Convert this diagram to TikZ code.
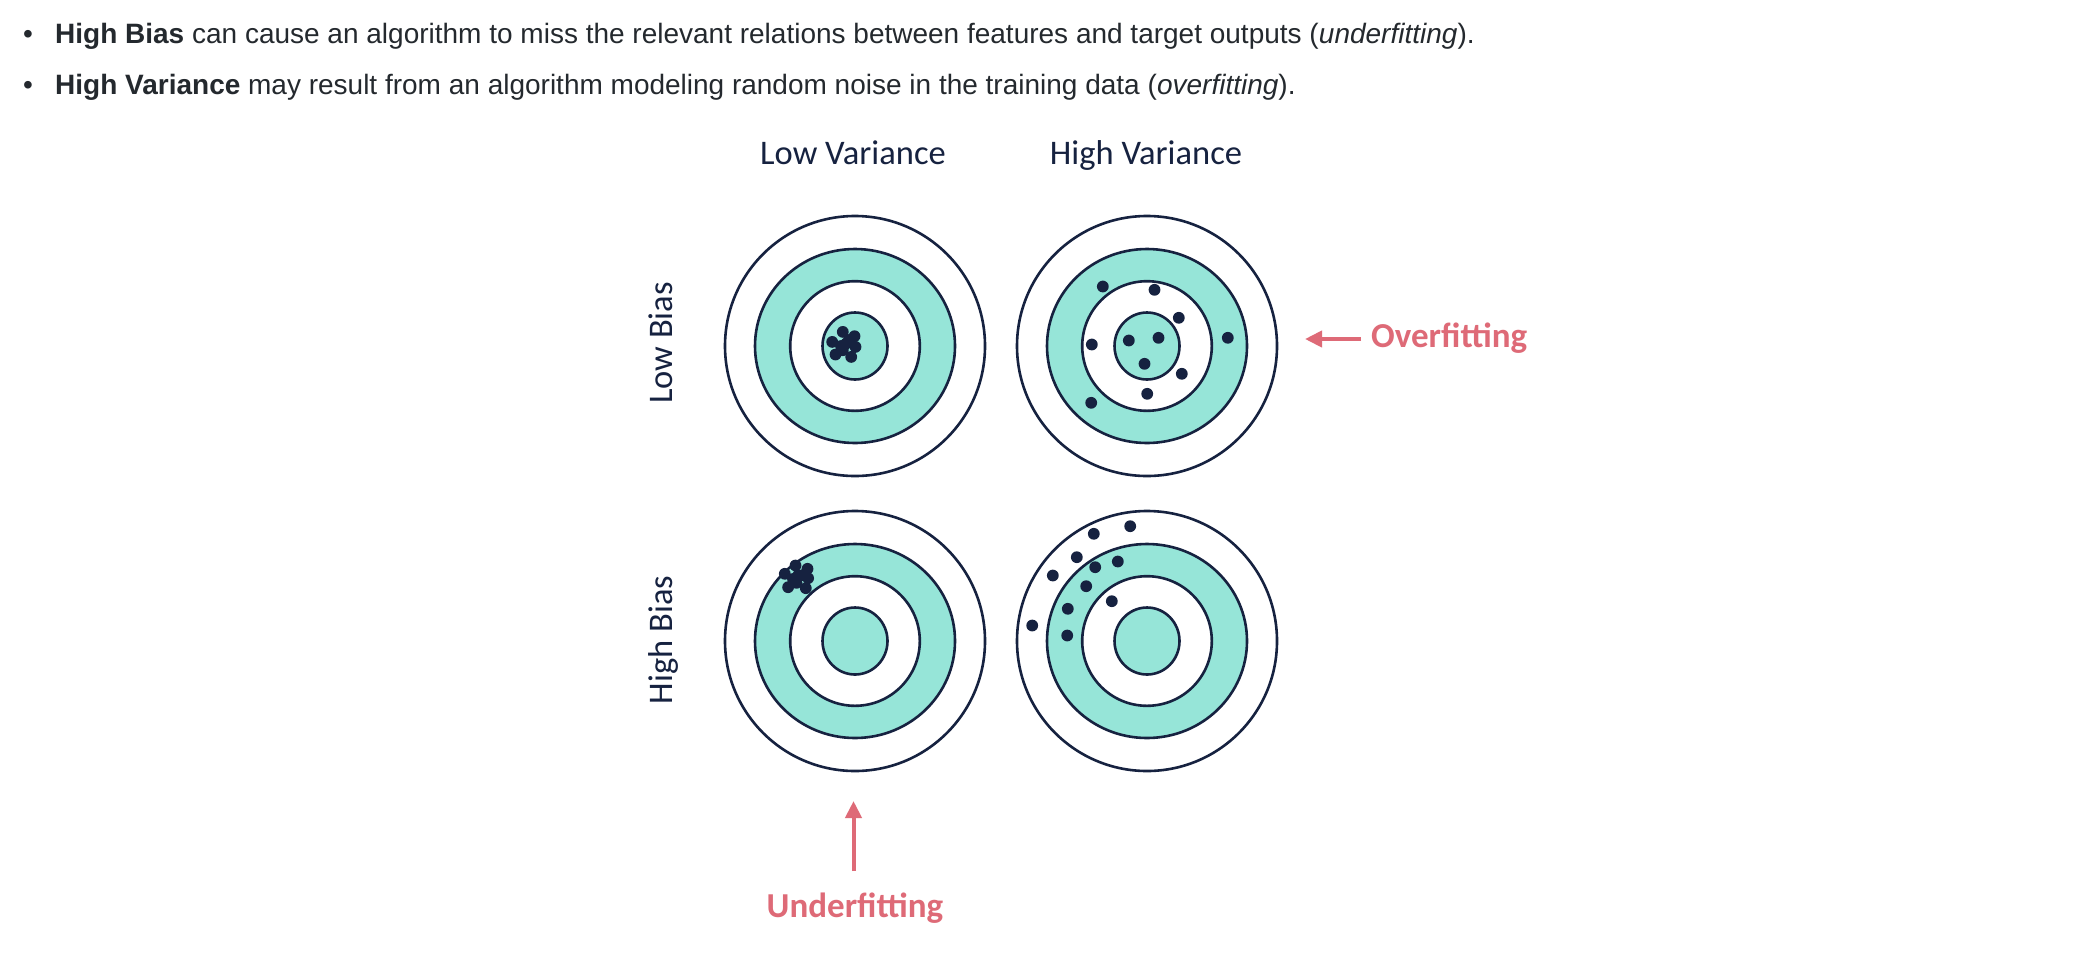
\documentclass[tikz,border=0pt]{standalone}
\usepackage{fontspec}
\setmainfont{Liberation Sans}
\newfontfamily\carl{Carlito}
\usetikzlibrary{arrows.meta}
\definecolor{navy}{RGB}{22,34,64}
\definecolor{tealfill}{RGB}{150,229,216}
\definecolor{pinkred}{RGB}{222,106,119}
\definecolor{bodytext}{RGB}{36,41,46}
\tikzset{
  ring/.style={draw=navy, line width=2.6pt},
  dot/.style={fill=navy},
  bodyfont/.style={font=\fontsize{28}{34}\selectfont, text=bodytext, inner sep=0pt},
  axlabel/.style={font=\carl\fontsize{34.5}{40}\selectfont, text=navy, inner sep=0pt},
  fitlabel/.style={font=\carl\bfseries\fontsize{35}{40}\selectfont, text=pinkred, inner sep=0pt},
  fitarrow/.style={draw=pinkred, line width=4pt, -{Triangle[length=17pt,width=16pt]}},
  target/.pic={
    \filldraw[ring, fill=white] (0,0) circle[radius=130];
    \filldraw[ring, fill=tealfill] (0,0) ellipse[x radius=100, y radius=97];
    \filldraw[ring, fill=white] (0,0) circle[radius=64.8];
    \filldraw[ring, fill=tealfill] (0,0) ellipse[x radius=32.5, y radius=33.5];
  }
}
\begin{document}
\begin{tikzpicture}[x=1pt,y=-1pt]
\useasboundingbox (0,0) rectangle (2100,978);
\fill[white] (0,0) rectangle (2100,978);

% bullet text
\node[bodyfont, anchor=base] (b1) at (28,43) {•};
\node[bodyfont, anchor=base west] (t1) at (55,43) {\textbf{High Bias} can cause an algorithm to miss the relevant relations between features and target outputs (\textit{underfitting}).};
\node[bodyfont, anchor=base] (b2) at (28,94) {•};
\node[bodyfont, anchor=base west] (t2) at (55,94) {\textbf{High Variance} may result from an algorithm modeling random noise in the training data (\textit{overfitting}).};

% column / row labels
\node[axlabel, anchor=base] (lv) at (853,164) {Low Variance};
\node[axlabel, anchor=base] (hv) at (1146,164) {High Variance};
\node[axlabel, anchor=base, rotate=90] (lb) at (672,343) {Low Bias};
\node[axlabel, anchor=base, rotate=90] (hb) at (672,640) {High Bias};

% targets
\pic at (855,346) {target};
\pic at (1147,346) {target};
\pic at (855,641) {target};
\pic at (1147,641) {target};

% low bias, low variance cluster
\begin{scope}[shift={(855,346)}]
\foreach \p in {(-12.2,-14.1),(-0.5,-9.8),(-22.8,-4.1),(0.5,0.9),(-8.8,-2.5),(-19.5,8.5),(-3.8,10.9),(-12.2,4.2),(-6,-6),(-14,0)}
  \fill[dot] \p circle[radius=5.9];
\end{scope}
% low bias, high variance
\begin{scope}[shift={(1147,346)}]
\foreach \p in {(-44.2,-59.5),(7.5,-56.2),(31.8,-28.2),(-18.2,-5.5),(11.5,-8.2),(-55.2,-1.5),(80.8,-8.2),(-2.5,17.8),(34.8,27.8),(0.2,47.8),(-55.8,56.8)}
  \fill[dot] \p circle[radius=5.9];
\end{scope}
% high bias, low variance
\begin{scope}[shift={(855,641)}]
\foreach \p in {(-59.5,-75.5),(-47.5,-72.2),(-70.2,-67.2),(-46.9,-62.8),(-56.9,-65.5),(-66.9,-53.8),(-49.2,-52.8),(-58.5,-58.2),(-52,-66),(-62,-62)}
  \fill[dot] \p circle[radius=5.9];
\end{scope}
% high bias, high variance
\begin{scope}[shift={(1147,641)}]
\foreach \p in {(-16.8,-114.8),(-53.2,-107.2),(-70.2,-83.8),(-51.8,-73.8),(-29.2,-79.5),(-94.2,-65.5),(-60.8,-54.8),(-35.2,-39.8),(-79.2,-32.2),(-114.8,-15.5),(-79.8,-5.5)}
  \fill[dot] \p circle[radius=5.9];
\end{scope}

% fitting annotations
\node[fitlabel, anchor=base west] (over) at (1371,347) {Overfitting};
\coordinate (oftail) at (1361,339);
\coordinate (oftip) at (1305,339);
\draw[fitarrow] (oftail) -- (oftip);

\node[fitlabel, anchor=base] (under) at (855,917) {Underfitting};
\coordinate (uftail) at (853.5,871);
\coordinate (uftip) at (853.5,801);
\draw[fitarrow] (uftail) -- (uftip);
\end{tikzpicture}
\end{document}
